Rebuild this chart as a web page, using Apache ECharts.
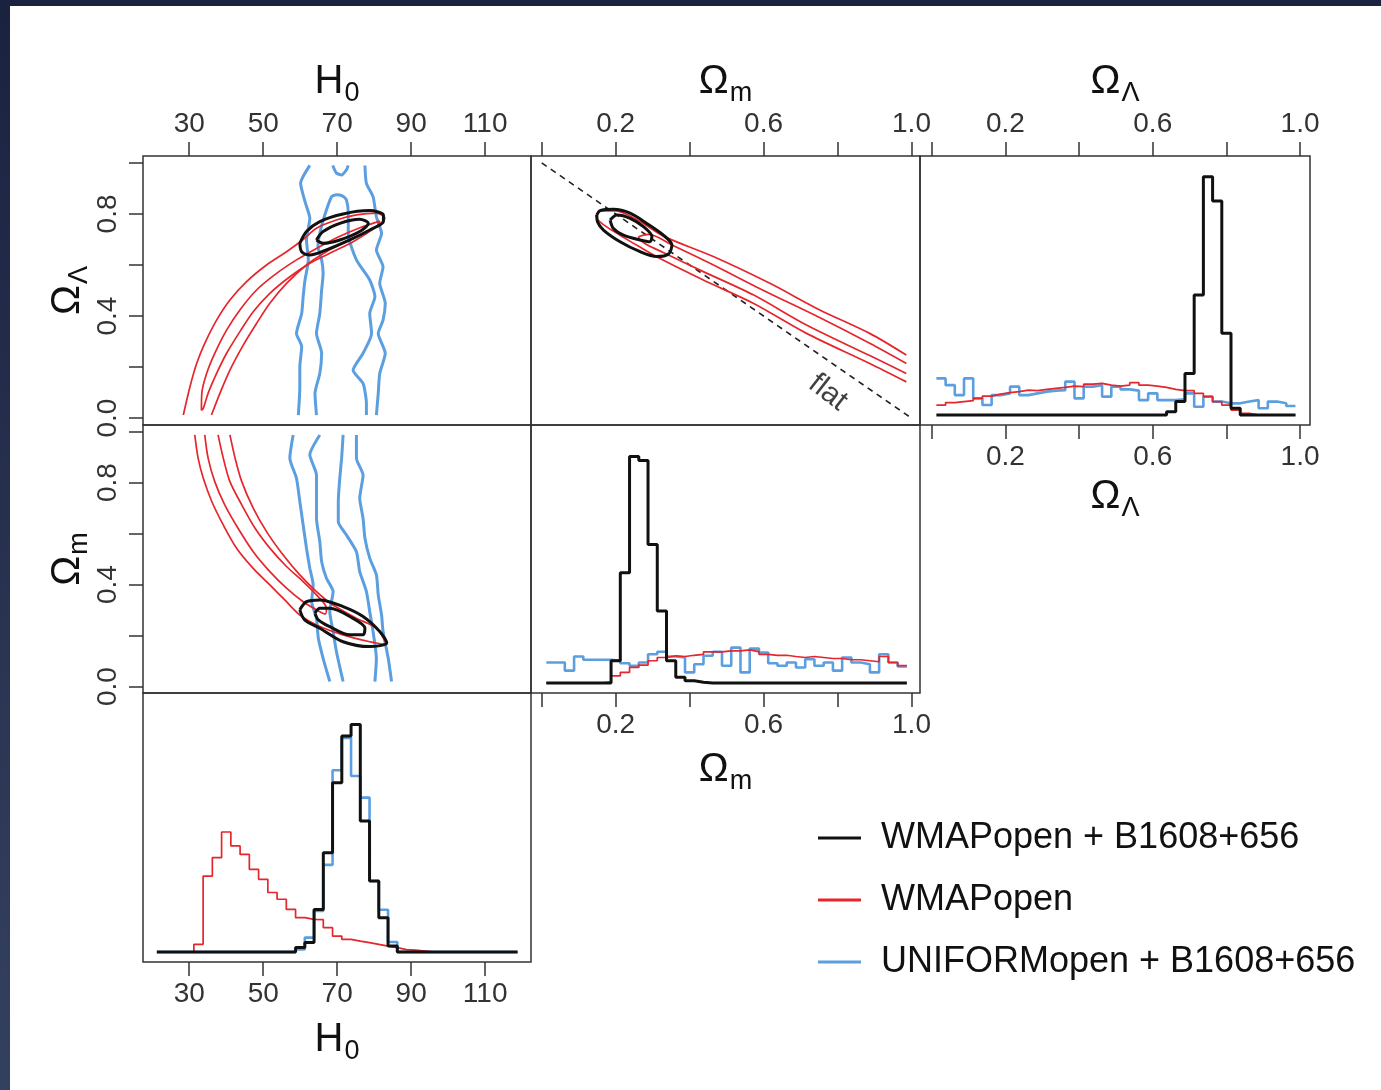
<!DOCTYPE html>
<html><head><meta charset="utf-8">
<script src="https://cdn.jsdelivr.net/npm/echarts@6/dist/echarts.min.js"></script>
<style>
html,body{margin:0;padding:0;width:1381px;height:1090px;overflow:hidden;background:linear-gradient(to bottom,#1a2240,#34415e);}
#paper{position:absolute;left:10px;top:6px;right:0;bottom:0;background:#fff;}
#chart{position:absolute;left:0;top:0;width:1381px;height:1090px;}
</style></head><body><div id="paper"></div><div id="chart"></div>
<script>
// ---------------- data ----------------
const NAME_BLACK = 'WMAPopen + B1608+656';
const NAME_RED = 'WMAPopen';
const NAME_BLUE = 'UNIFORMopen + B1608+656';

const H0_TICKS = [30, 50, 70, 90, 110];
const DENS_TICKS = [0, 0.2, 0.4, 0.6, 0.8, 1.0];
const DENS_X_LABELS = [0.2, 0.6, 1.0];
const DENS_Y_LABELS = [0.0, 0.4, 0.8];

// histogram bins
const H0_BIN_START = 21.25, H0_BIN_WIDTH = 2.5;
const OM_BIN_START = 0.0125, OM_BIN_WIDTH = 0.025;
const OL_BIN_START = 0.0125, OL_BIN_WIDTH = 0.025;

const H0_HIST_BLACK = [0,0,0,0,0,0,0,0,0,0,0,0,0,0,0,0.018,0.038,0.171,0.399,0.680,0.867,0.914,0.526,0.285,0.138,0.024,0,0,0,0,0,0,0,0,0,0,0,0,0];
const H0_HIST_BLUE  = [0,0,0,0,0,0,0,0,0,0,0,0,0,0,0,0.010,0.058,0.165,0.350,0.730,0.860,0.707,0.620,0.285,0.170,0.040,0,0,0,0,0,0,0,0,0,0,0,0,0];
const H0_HIST_RED   = [0,0,0,0,0.031,0.305,0.379,0.482,0.426,0.392,0.332,0.292,0.239,0.212,0.171,0.138,0.131,0.130,0.098,0.064,0.051,0.044,0.038,0.031,0.024,0.018,0.010,0.008,0.004,0,0,0,0,0,0,0,0,0,0];

const OM_HIST_BLACK = [0,0,0,0,0,0,0,0.090,0.445,0.913,0.897,0.558,0.290,0.090,0.023,0.009,0.003,0,0,0,0,0,0,0,0,0,0,0,0,0,0,0,0,0,0,0,0,0,0];
const OM_HIST_RED   = [0,0,0,0,0,0,0.005,0.029,0.043,0.063,0.072,0.090,0.103,0.110,0.107,0.112,0.116,0.126,0.126,0.130,0.130,0.134,0.127,0.116,0.112,0.112,0.107,0.103,0.107,0.103,0.099,0.099,0.094,0.094,0.090,0.086,0.107,0.083,0.070];
const OM_HIST_BLUE  = [0.083,0.083,0.050,0.107,0.094,0.094,0.094,0.090,0.080,0.070,0.083,0.116,0.126,0.107,0.103,0.043,0.076,0.110,0.126,0.070,0.143,0.043,0.139,0.123,0.080,0.070,0.083,0.063,0.096,0.070,0.083,0.050,0.103,0.083,0.076,0.043,0.116,0.083,0.067];

const OL_HIST_BLACK = [0,0,0,0,0,0,0,0,0,0,0,0,0,0,0,0,0,0,0,0,0,0,0,0,0,0.013,0.054,0.167,0.482,0.957,0.859,0.328,0.027,0,0,0,0,0,0];
const OL_HIST_RED   = [0.040,0.050,0.054,0.058,0.067,0.076,0.084,0.090,0.094,0.100,0.098,0.103,0.107,0.111,0.116,0.114,0.124,0.127,0.120,0.116,0.120,0.130,0.120,0.116,0.111,0.103,0.098,0.098,0.087,0.074,0.054,0.040,0.020,0.007,0,0,0,0,0];
const OL_HIST_BLUE  = [0.147,0.120,0.080,0.147,0.067,0.040,0.080,0.087,0.114,0.080,0.087,0.094,0.098,0.100,0.134,0.067,0.114,0.120,0.074,0.114,0.103,0.098,0.060,0.087,0.060,0.060,0.063,0.087,0.033,0.074,0.054,0.047,0.047,0.054,0.060,0.027,0.054,0.047,0.036];

// contours: H0 vs Omega_Lambda
const C_H0_OL_RED_OUTER = [[28.4,0.012],[30.2,0.123],[32.0,0.214],[34.2,0.293],[37.4,0.384],[41.0,0.463],[45.5,0.535],[50.9,0.600],[56.3,0.652],[60.8,0.700],[64.4,0.744],[69.8,0.776],[75.2,0.796],[80.6,0.803],[82.9,0.783],[79.8,0.744],[73.4,0.698],[67.1,0.652],[61.7,0.600],[56.3,0.528],[51.8,0.450],[48.2,0.371],[44.6,0.286],[41.0,0.188],[38.3,0.097],[36.0,0.012]];
const C_H0_OL_RED_INNER = [[33.3,0.030],[33.4,0.097],[34.7,0.175],[36.9,0.254],[40.1,0.345],[43.7,0.424],[48.2,0.502],[53.6,0.567],[59.0,0.620],[64.4,0.665],[70.0,0.708],[76.0,0.745],[81.5,0.772],[80.6,0.750],[74.3,0.691],[68.0,0.646],[62.6,0.607],[57.2,0.554],[51.8,0.489],[47.3,0.417],[43.7,0.339],[40.1,0.254],[37.4,0.175],[35.1,0.097],[33.8,0.038],[33.3,0.030]];
const C_H0_OL_BLACK_OUTER = [[59.9,0.685],[61.7,0.731],[65.3,0.770],[71.6,0.800],[78.8,0.813],[82.5,0.796],[82.5,0.770],[78.8,0.737],[73.4,0.698],[67.1,0.659],[62.6,0.639],[60.4,0.652],[59.9,0.685]];
const C_H0_OL_BLACK_INNER = [[64.4,0.698],[66.2,0.731],[70.7,0.763],[76.1,0.779],[78.4,0.763],[76.1,0.731],[70.7,0.698],[66.2,0.685],[64.4,0.698]];
const C_H0_OL_BLUE_1 = [[62.6,0.990],[60.1,0.920],[61.3,0.848],[62.6,0.783],[61.7,0.698],[62.2,0.620],[61.3,0.541],[60.8,0.476],[60.4,0.410],[59.0,0.332],[60.4,0.280],[59.9,0.201],[59.9,0.123],[59.5,0.012]];
const C_H0_OL_BLUE_2 = [[64.4,0.012],[64.0,0.097],[65.3,0.175],[65.8,0.254],[64.4,0.332],[65.3,0.410],[65.8,0.502],[66.2,0.567],[65.8,0.620],[64.8,0.672],[65.5,0.737],[67.2,0.820],[68.5,0.868],[69.8,0.875],[71.5,0.870],[72.5,0.855],[73.0,0.800],[73.0,0.720],[75.2,0.620],[78.8,0.541],[80.2,0.476],[78.8,0.410],[79.3,0.332],[77.0,0.254],[74.3,0.188],[77.0,0.136],[77.9,0.058],[77.9,0.012]];
const C_H0_OL_BLUE_3 = [[68.8,0.990],[69.8,0.960],[71.2,0.953],[72.5,0.973],[73.0,0.990]];
const C_H0_OL_BLUE_4 = [[77.5,0.990],[77.9,0.920],[79.7,0.868],[80.6,0.789],[82.0,0.724],[80.6,0.659],[82.4,0.593],[81.5,0.528],[83.0,0.450],[82.4,0.384],[81.1,0.332],[83.0,0.254],[81.5,0.175],[81.1,0.097],[80.6,0.012]];

// contours: H0 vs Omega_m
const C_H0_OM_RED_OUTER = [[31.5,0.987],[32.4,0.896],[33.8,0.817],[36.1,0.726],[39.2,0.634],[42.8,0.543],[47.3,0.464],[51.8,0.399],[56.3,0.333],[59.9,0.281],[64.4,0.242],[71.6,0.203],[78.8,0.176],[83.4,0.164],[80.6,0.229],[75.2,0.268],[68.9,0.320],[64.4,0.373],[59.9,0.438],[55.4,0.516],[50.9,0.608],[47.3,0.700],[44.2,0.804],[42.4,0.896],[41.0,0.987]];
const C_H0_OM_RED_INNER = [[34.2,0.987],[35.1,0.896],[36.9,0.804],[39.6,0.713],[43.2,0.621],[47.3,0.529],[51.8,0.451],[56.3,0.386],[60.8,0.333],[65.3,0.294],[66.8,0.285],[67.1,0.307],[64.4,0.360],[60.8,0.412],[56.3,0.471],[51.8,0.543],[47.8,0.621],[44.2,0.713],[41.0,0.804],[39.2,0.896],[37.8,0.987]];
const C_H0_OM_BLACK_OUTER = [[59.9,0.301],[61.7,0.333],[65.3,0.340],[71.6,0.314],[77.0,0.275],[81.5,0.216],[83.4,0.172],[78.8,0.157],[71.6,0.176],[65.3,0.229],[61.2,0.262],[59.9,0.301]];
const C_H0_OM_BLACK_INNER = [[64.0,0.288],[65.3,0.307],[68.0,0.307],[73.4,0.275],[77.5,0.229],[77.0,0.203],[73.4,0.203],[68.0,0.235],[64.9,0.262],[64.0,0.288]];
const C_H0_OM_BLUE_1 = [[58.1,0.987],[57.2,0.896],[59.0,0.817],[59.9,0.726],[60.8,0.634],[61.7,0.543],[62.6,0.464],[63.5,0.399],[63.1,0.333],[64.4,0.268],[64.9,0.190],[66.2,0.111],[68.0,0.020]];
const C_H0_OM_BLUE_2 = [[65.3,0.987],[62.6,0.909],[64.4,0.830],[64.4,0.739],[64.4,0.660],[65.3,0.569],[65.8,0.490],[67.1,0.425],[68.9,0.373],[68.0,0.294],[68.9,0.216],[69.8,0.137],[71.6,0.020]];
const C_H0_OM_BLUE_3 = [[71.6,0.987],[71.2,0.896],[70.7,0.817],[70.3,0.726],[70.3,0.647],[72.5,0.595],[75.2,0.529],[76.1,0.451],[77.9,0.373],[78.8,0.294],[79.7,0.216],[80.6,0.111],[80.2,0.020]];
const C_H0_OM_BLUE_4 = [[75.2,0.987],[75.2,0.896],[77.0,0.830],[76.1,0.739],[77.0,0.660],[77.5,0.582],[78.8,0.504],[80.6,0.438],[81.1,0.360],[82.0,0.281],[82.4,0.216],[83.8,0.111],[84.7,0.020]];

// contours: Omega_m vs Omega_Lambda
const C_OM_OL_RED_OUTER = [[0.986,0.247],[0.887,0.332],[0.752,0.424],[0.617,0.528],[0.464,0.633],[0.329,0.713],[0.260,0.775],[0.200,0.812],[0.160,0.812],[0.147,0.790],[0.165,0.760],[0.210,0.718],[0.260,0.675],[0.320,0.625],[0.437,0.541],[0.572,0.450],[0.716,0.332],[0.887,0.214],[0.986,0.142]];
const C_OM_OL_RED_INNER = [[0.986,0.214],[0.887,0.293],[0.750,0.395],[0.600,0.500],[0.455,0.607],[0.350,0.680],[0.290,0.720],[0.262,0.708],[0.280,0.683],[0.330,0.648],[0.437,0.574],[0.572,0.483],[0.716,0.365],[0.887,0.245],[0.986,0.175]];
const C_OM_OL_BLACK_OUTER = [[0.149,0.796],[0.158,0.813],[0.194,0.818],[0.239,0.803],[0.284,0.763],[0.329,0.717],[0.352,0.678],[0.343,0.643],[0.311,0.633],[0.266,0.652],[0.212,0.691],[0.167,0.737],[0.151,0.769],[0.149,0.796]];
const C_OM_OL_BLACK_INNER = [[0.185,0.776],[0.203,0.796],[0.239,0.783],[0.275,0.750],[0.298,0.711],[0.293,0.691],[0.266,0.698],[0.221,0.717],[0.194,0.743],[0.185,0.776]];
const FLAT_LINE = [[0, 1], [1, 0]];
const FLAT_LABEL_AT = [[0.774, 0.100]];

// ---------------- chart ----------------
const FONT = '"Liberation Sans", Arial, Helvetica, sans-serif';
const BLACK = '#111111', RED = '#e5262c', BLUE = '#5b9fe0';

function histData(start, width, values) {
  const d = values.map((v, i) => [start + width * i, v]);
  d.push([start + width * values.length, values[values.length - 1]]);
  return d;
}

const nameRich = {
  b: {fontSize: 40, fontFamily: FONT, color: '#111', verticalAlign: 'top', lineHeight: 40},
  s: {fontSize: 27, fontFamily: FONT, color: '#111', verticalAlign: 'top', lineHeight: 27, padding: [18, 0, 0, 1]}
};
const NAME_H0 = '{b|H}{s|0}', NAME_OM = '{b|\u03A9}{s|m}', NAME_OL = '{b|\u03A9}{s|\u039B}';

const tickStyle = (vals) => ({show: true, inside: false, length: 14, customValues: vals, lineStyle: {color: '#333', width: 1.5}});
const labelStyle = (vals, fmt, extra) => Object.assign({show: true, customValues: vals, formatter: fmt, fontSize: 28, color: '#333', fontFamily: FONT, margin: 18}, extra || {});
const f1 = v => Number(v).toFixed(1);
const f0 = v => String(Math.round(v));

function shownAxis(o) {
  return Object.assign({type: 'value', splitLine: {show: false}, axisLine: {show: false, onZero: false},
    nameLocation: 'middle', nameTextStyle: {rich: nameRich}}, o);
}
function hiddenAxis(o) { return Object.assign({type: 'value', show: false, splitLine: {show: false}, axisLine: {show: false, onZero: false}}, o); }

const H0R = [17.5, 122.4], OMX = [-0.029, 1.023], OLX = [-0.032, 1.027], OLY = [-0.027, 1.027], OMY = [-0.025, 1.026], HR = [-0.04, 1.04];

const xAxis = [
  shownAxis({gridIndex: 0, position: 'top', min: H0R[0], max: H0R[1], axisTick: tickStyle(H0_TICKS), axisLabel: labelStyle(H0_TICKS, f0), name: NAME_H0, nameGap: 54}),
  shownAxis({gridIndex: 1, position: 'top', min: OMX[0], max: OMX[1], axisTick: tickStyle(DENS_TICKS), axisLabel: labelStyle(DENS_X_LABELS, f1), name: NAME_OM, nameGap: 54}),
  shownAxis({gridIndex: 2, position: 'top', min: OLX[0], max: OLX[1], axisTick: tickStyle(DENS_TICKS), axisLabel: labelStyle(DENS_X_LABELS, f1), name: NAME_OL, nameGap: 54}),
  shownAxis({gridIndex: 2, position: 'bottom', min: OLX[0], max: OLX[1], axisTick: tickStyle(DENS_TICKS), axisLabel: labelStyle(DENS_X_LABELS, f1), name: NAME_OL, nameGap: 52}),
  hiddenAxis({gridIndex: 3, min: H0R[0], max: H0R[1]}),
  shownAxis({gridIndex: 4, position: 'bottom', min: OMX[0], max: OMX[1], axisTick: tickStyle(DENS_TICKS), axisLabel: labelStyle(DENS_X_LABELS, f1), name: NAME_OM, nameGap: 57}),
  shownAxis({gridIndex: 5, position: 'bottom', min: H0R[0], max: H0R[1], axisTick: tickStyle(H0_TICKS), axisLabel: labelStyle(H0_TICKS, f0), name: NAME_H0, nameGap: 58})
];
const yAxis = [
  shownAxis({gridIndex: 0, position: 'left', min: OLY[0], max: OLY[1], axisTick: tickStyle(DENS_TICKS), axisLabel: labelStyle(DENS_Y_LABELS, f1, {rotate: 90, margin: 21}), name: NAME_OL, nameRotate: 90, nameGap: 49}),
  hiddenAxis({gridIndex: 1, min: OLY[0], max: OLY[1]}),
  hiddenAxis({gridIndex: 2, min: HR[0], max: HR[1]}),
  shownAxis({gridIndex: 3, position: 'left', min: OMY[0], max: OMY[1], axisTick: tickStyle(DENS_TICKS), axisLabel: labelStyle(DENS_Y_LABELS, f1, {rotate: 90, margin: 21}), name: NAME_OM, nameRotate: 90, nameGap: 49}),
  hiddenAxis({gridIndex: 4, min: HR[0], max: HR[1]}),
  hiddenAxis({gridIndex: 5, min: HR[0], max: HR[1]})
];
const X_OF = [0, 1, 2, 4, 5, 6], Y_OF = [0, 1, 2, 3, 4, 5];
const gridBox = (l, t, w, h) => ({left: l, top: t, width: w, height: h, show: true, borderColor: '#333', borderWidth: 1.5, backgroundColor: 'transparent'});
const grid = [gridBox(143, 156, 388, 269), gridBox(531, 156, 389, 269), gridBox(920, 156, 390, 269),
              gridBox(143, 425, 388, 268), gridBox(531, 425, 389, 268), gridBox(143, 693, 388, 269)];

const STYLE = {
  [NAME_BLACK]: {color: BLACK, width: 3, z: 4, smooth: 0.3},
  [NAME_RED]: {color: RED, width: 1.7, z: 3, smooth: 0.3},
  [NAME_BLUE]: {color: BLUE, width: 3, z: 2, smooth: 0.2}
};
function contour(name, data, gi) {
  const s = STYLE[name];
  return {type: 'line', name, xAxisIndex: X_OF[gi], yAxisIndex: Y_OF[gi], data, symbol: 'none', showSymbol: false,
    smooth: s.smooth, color: s.color, lineStyle: {color: s.color, width: s.width}, itemStyle: {color: s.color}, z: s.z, silent: true};
}
function hist(name, start, width, values, gi) {
  const s = STYLE[name];
  return {type: 'line', name, xAxisIndex: X_OF[gi], yAxisIndex: Y_OF[gi], data: histData(start, width, values), step: 'end',
    symbol: 'none', showSymbol: false, color: s.color, lineStyle: {color: s.color, width: name === NAME_BLUE ? 2.6 : s.width}, itemStyle: {color: s.color}, z: s.z, silent: true};
}

const series = [
  // H0 - Omega_Lambda
  contour(NAME_BLUE, C_H0_OL_BLUE_1, 0), contour(NAME_BLUE, C_H0_OL_BLUE_2, 0), contour(NAME_BLUE, C_H0_OL_BLUE_3, 0), contour(NAME_BLUE, C_H0_OL_BLUE_4, 0),
  contour(NAME_RED, C_H0_OL_RED_OUTER, 0), contour(NAME_RED, C_H0_OL_RED_INNER, 0),
  contour(NAME_BLACK, C_H0_OL_BLACK_OUTER, 0), contour(NAME_BLACK, C_H0_OL_BLACK_INNER, 0),
  // Omega_m - Omega_Lambda
  {type: 'line', name: 'flat', xAxisIndex: 1, yAxisIndex: 1, data: FLAT_LINE, symbol: 'none', lineStyle: {color: '#222', width: 1.6, type: [6, 5]}, z: 1, silent: true},
  {type: 'scatter', name: 'flatlabel', xAxisIndex: 1, yAxisIndex: 1, data: FLAT_LABEL_AT, symbol: 'circle', symbolSize: 2, itemStyle: {color: 'rgba(0,0,0,0)'}, silent: true, z: 5,
    label: {show: true, position: 'inside', formatter: 'flat', rotate: -38, fontSize: 30, color: '#111', fontFamily: FONT}},
  contour(NAME_RED, C_OM_OL_RED_OUTER, 1), contour(NAME_RED, C_OM_OL_RED_INNER, 1),
  contour(NAME_BLACK, C_OM_OL_BLACK_OUTER, 1), contour(NAME_BLACK, C_OM_OL_BLACK_INNER, 1),
  // Omega_Lambda histogram
  hist(NAME_BLUE, OL_BIN_START, OL_BIN_WIDTH, OL_HIST_BLUE, 2), hist(NAME_RED, OL_BIN_START, OL_BIN_WIDTH, OL_HIST_RED, 2), hist(NAME_BLACK, OL_BIN_START, OL_BIN_WIDTH, OL_HIST_BLACK, 2),
  // H0 - Omega_m
  contour(NAME_BLUE, C_H0_OM_BLUE_1, 3), contour(NAME_BLUE, C_H0_OM_BLUE_2, 3), contour(NAME_BLUE, C_H0_OM_BLUE_3, 3), contour(NAME_BLUE, C_H0_OM_BLUE_4, 3),
  contour(NAME_RED, C_H0_OM_RED_OUTER, 3), contour(NAME_RED, C_H0_OM_RED_INNER, 3),
  contour(NAME_BLACK, C_H0_OM_BLACK_OUTER, 3), contour(NAME_BLACK, C_H0_OM_BLACK_INNER, 3),
  // Omega_m histogram
  hist(NAME_BLUE, OM_BIN_START, OM_BIN_WIDTH, OM_HIST_BLUE, 4), hist(NAME_RED, OM_BIN_START, OM_BIN_WIDTH, OM_HIST_RED, 4), hist(NAME_BLACK, OM_BIN_START, OM_BIN_WIDTH, OM_HIST_BLACK, 4),
  // H0 histogram
  hist(NAME_BLUE, H0_BIN_START, H0_BIN_WIDTH, H0_HIST_BLUE, 5), hist(NAME_RED, H0_BIN_START, H0_BIN_WIDTH, H0_HIST_RED, 5), hist(NAME_BLACK, H0_BIN_START, H0_BIN_WIDTH, H0_HIST_BLACK, 5)
];

const chart = echarts.init(document.getElementById('chart'), null, {renderer: 'canvas'});
chart.setOption({
  animation: false,
  backgroundColor: 'transparent',
  grid, xAxis, yAxis, series,
  legend: {
    orient: 'vertical', left: 818, top: 820, padding: 0, itemGap: 26,
    itemWidth: 43, itemHeight: 3, icon: 'rect', selectedMode: false,
    textStyle: {fontSize: 36, color: '#111', fontFamily: FONT, padding: [0, 0, 0, 15]},
    data: [
      {name: NAME_BLACK, itemStyle: {color: BLACK}},
      {name: NAME_RED, itemStyle: {color: RED}},
      {name: NAME_BLUE, itemStyle: {color: BLUE}}
    ]
  }
});
</script></body></html>
